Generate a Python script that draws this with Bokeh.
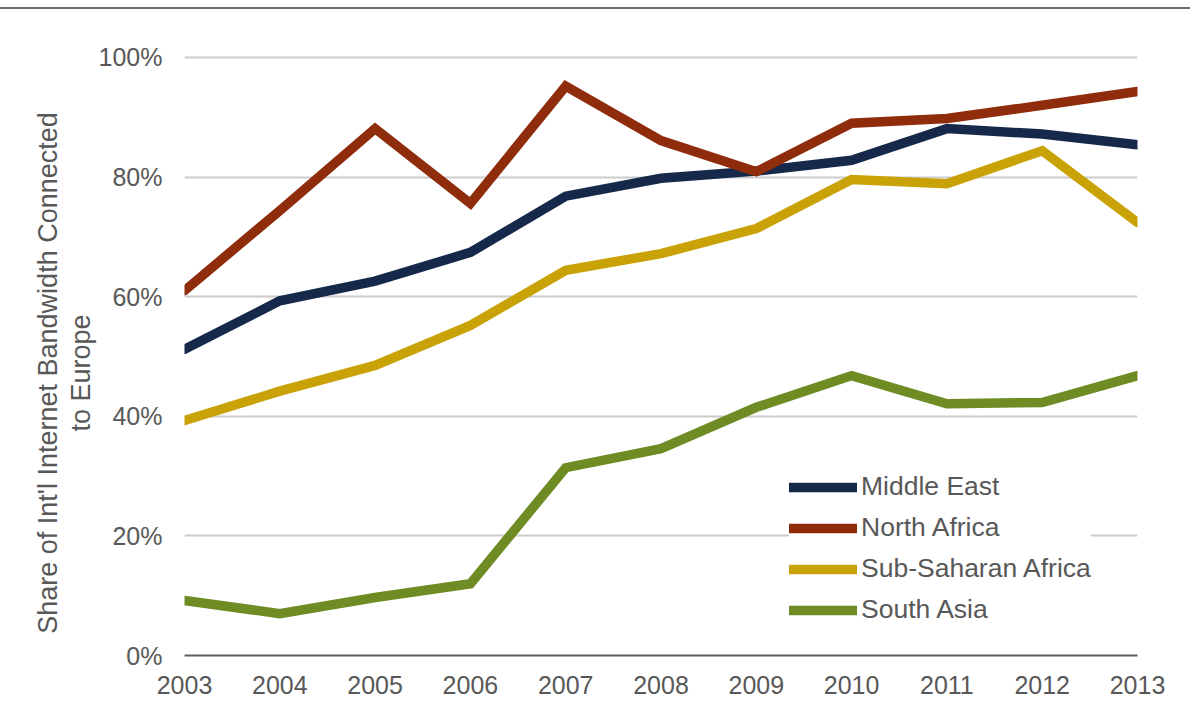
from bokeh.plotting import figure
from bokeh.models import Range1d, FixedTicker, PrintfTickFormatter, Legend, LegendItem, Div
from bokeh.layouts import column
from bokeh.embed import file_html
from bokeh.resources import INLINE

years = [2003, 2004, 2005, 2006, 2007, 2008, 2009, 2010, 2011, 2012, 2013]
middle_east = [51.2, 59.3, 62.6, 67.4, 76.8, 79.8, 81.0, 82.8, 88.1, 87.2, 85.4]
north_africa = [61.0, 74.4, 88.1, 75.6, 95.2, 86.1, 80.9, 89.0, 89.8, 92.0, 94.3]
sub_saharan = [39.3, 44.2, 48.5, 55.2, 64.4, 67.2, 71.4, 79.6, 78.9, 84.4, 72.4]
south_asia = [9.2, 7.0, 9.7, 12.0, 31.4, 34.6, 41.5, 46.8, 42.1, 42.3, 46.8]
series_names = ["Middle East", "North Africa", "Sub-Saharan Africa", "South Asia"]
series_values = [middle_east, north_africa, sub_saharan, south_asia]
series_colors = ["#16294a", "#8e2c0c", "#c9a208", "#6e8b24"]
y_ticks = [0, 20, 40, 60, 80, 100]
y_title_lines = ["Share of Int'l Internet Bandwidth Connected", "to Europe"]

FONT = "Liberation Sans"
TXT = "#585858"

top_rule = Div(text="", width=1190, height=9,
               styles={"border-bottom": "2px solid #6c6c6c", "box-sizing": "border-box",
                       "margin": "0", "padding": "0"})

p = figure(width=1190, height=697, output_backend="svg", toolbar_location=None,
           x_range=Range1d(2003, 2013), y_range=Range1d(0, 102),
           min_border_left=184, min_border_right=53, min_border_top=36, min_border_bottom=51)
p.outline_line_color = None
p.background_fill_color = "white"
p.border_fill_color = "white"

p.xgrid.grid_line_color = None
p.ygrid.grid_line_color = "#cccccc"
p.ygrid.grid_line_width = 2

p.xaxis.ticker = FixedTicker(ticks=years)
p.yaxis.ticker = FixedTicker(ticks=y_ticks)
p.yaxis.formatter = PrintfTickFormatter(format="%d%%")

for ax in (p.xaxis[0], p.yaxis[0]):
    ax.major_tick_line_color = None
    ax.minor_tick_line_color = None
    ax.major_label_text_font = FONT
    ax.major_label_text_font_size = "25px"
    ax.major_label_text_color = TXT
p.yaxis.axis_line_color = None
p.xaxis.axis_line_color = "#5e5e5e"
p.xaxis.axis_line_width = 2
p.yaxis.major_label_standoff = 16
p.xaxis.major_label_standoff = 14

pad = " " * 6
p.yaxis.axis_label = "\n".join(line + pad for line in y_title_lines)
p.yaxis.axis_label_text_font = FONT
p.yaxis.axis_label_text_font_size = "27px"
p.yaxis.axis_label_text_font_style = "normal"
p.yaxis.axis_label_text_color = TXT
p.yaxis.axis_label_text_line_height = 1.08
p.yaxis.axis_label_standoff = 0

items = []
for name, vals, col in zip(series_names, series_values, series_colors):
    r = p.line(years, vals, line_color=col, line_width=9.5, line_join="miter", line_cap="round")
    items.append(LegendItem(label=name, renderers=[r]))

legend = Legend(items=items, location=(605, 30), orientation="vertical",
                glyph_width=68, glyph_height=28, label_height=28, spacing=10,
                padding=8, margin=0, label_standoff=4,
                label_text_font=FONT, label_text_font_size="26.5px", label_text_color=TXT,
                border_line_color=None, background_fill_color="white", background_fill_alpha=1.0)
p.add_layout(legend, "center")

layout = column(top_rule, p, spacing=0)
open("out.html", "w").write(file_html(layout, INLINE))
